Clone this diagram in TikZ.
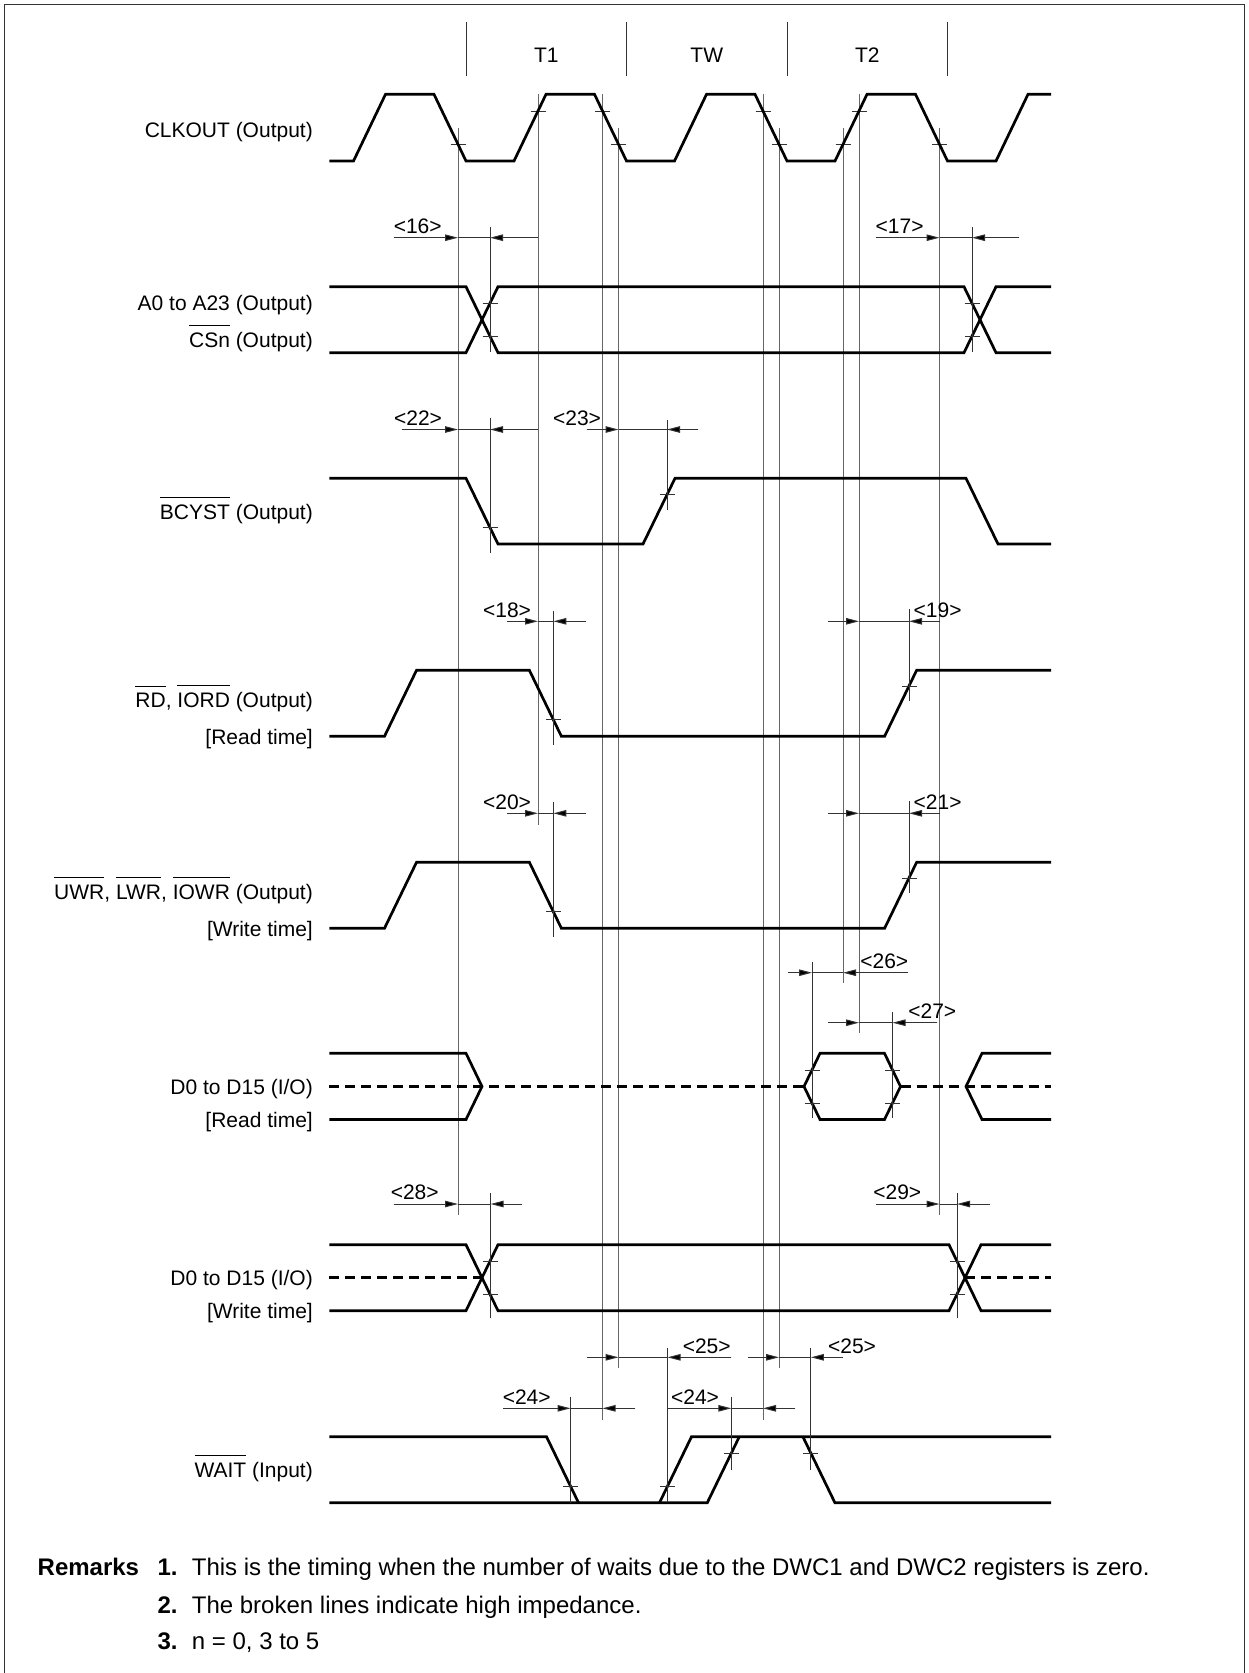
\documentclass[tikz,border=0pt]{standalone}
\usepackage{fontspec}
\setmainfont{Liberation Sans}
\usetikzlibrary{arrows.meta}
\newcommand\ovl[1]{\leavevmode\vbox{\hrule height 1pt\kern 6.5pt\hbox{#1}}}
% reference line: name, x, ytop, ybottom
\newcommand\refln[4]{\coordinate (#1t) at (#2,#3); \coordinate (#1b) at (#2,#4); \draw[vref] (#1t) -- (#1b);}
% local tick line: name, x, ytop, ybottom
\newcommand\tkln[4]{\coordinate (#1t) at (#2,#3); \coordinate (#1b) at (#2,#4); \draw[tickln] (#1t) -- (#1b);}
% small horizontal tick mark at (x,y)
\newcommand\tk[2]{\draw[tickln] ({#1-7.5},#2) -- ({#1+7.5},#2);}
% dimension: name, y, tailL, tipL, tipR, tailR, label x, label
\newcommand\tdim[8]{%
  \coordinate (#1la) at (#3,#2); \coordinate (#1lt) at (#4,#2);
  \coordinate (#1rt) at (#5,#2); \coordinate (#1ra) at (#6,#2);
  \draw[dimarrow] (#1la) -- (#1lt);
  \draw[dimline] (#1lt) -- (#1rt);
  \draw[dimarrow] (#1ra) -- (#1rt);
  \node[dlab] (#1lab) at (#7,{#2-4.2}) {#8};}
\begin{document}
\begin{tikzpicture}[x=1pt,y=-1pt,
  sig/.style={line width=2.7pt, line join=miter},
  hiz/.style={line width=2.7pt, dash pattern=on 10pt off 6pt},
  vref/.style={line width=1pt, draw=black!60},
  tickln/.style={line width=1pt, draw=black!80},
  dimline/.style={line width=1pt, draw=black!80},
  dimarrow/.style={line width=1pt, draw=black!80, fill=black, -{Triangle[length=13pt,width=6.5pt,fill=black]}},
  lab/.style={font=\fontsize{21}{25}\selectfont, inner sep=0pt, anchor=base east},
  dlab/.style={font=\fontsize{21}{25}\selectfont, inner sep=0pt, anchor=base},
  rem/.style={font=\fontsize{24}{28}\selectfont, inner sep=0pt, anchor=base west},
]
\useasboundingbox (0,0) rectangle (1249,1673);
\coordinate (fbl) at (4.5,1673); \coordinate (ftl) at (4.5,4.5);
\coordinate (ftr) at (1244.5,4.5); \coordinate (fbr) at (1244.5,1673);
\draw[line width=1.3pt, black!80] (fbl) -- (ftl) -- (ftr) -- (fbr);

% period markers
\tkln{P0}{466}{22}{76} \tkln{P1}{626.5}{22}{76} \tkln{P2}{787}{22}{76} \tkln{P3}{947.5}{22}{76}
\node[dlab] (tT1) at (546.25,62.6) {T1};
\node[dlab] (tTW) at (706.75,62.6) {TW};
\node[dlab] (tT2) at (867.25,62.6) {T2};

% signal labels
\node[lab] (lclk) at (313,137) {CLKOUT (Output)};
\node[lab] (la0) at (313,310.9) {A0 to A23 (Output)};
\node[lab] (lcs) at (313,347.3) {\ovl{CSn} (Output)};
\node[lab] (lbc) at (313,519) {\ovl{BCYST} (Output)};
\node[lab] (lrd) at (313,707.6) {\ovl{RD}, \ovl{IORD} (Output)};
\node[lab] (lrdt) at (313,744) {[Read time]};
\node[lab] (lwr) at (313,899) {\ovl{UWR}, \ovl{LWR}, \ovl{IOWR} (Output)};
\node[lab] (lwrt) at (313,936) {[Write time]};
\node[lab] (ld0r) at (313,1094) {D0 to D15 (I/O)};
\node[lab] (ld0rt) at (313,1127) {[Read time]};
\node[lab] (ld0w) at (313,1285.3) {D0 to D15 (I/O)};
\node[lab] (ld0wt) at (313,1318.3) {[Write time]};
\node[lab] (lwait) at (313,1477.3) {\ovl{WAIT} (Input)};

% clock reference lines
\refln{V1}{458}{128}{1215}
\refln{V2}{538}{94}{825}
\refln{V3}{602.5}{94}{1420}
\refln{V4}{618.5}{128}{1368}
\refln{V5}{763}{94}{1420}
\refln{V6}{779}{128}{1368}
\refln{V7}{843}{128}{983}
\refln{V8}{859}{94}{1033}
\refln{V9}{939.5}{128}{1215}
\tk{458}{144.3} \tk{538}{111} \tk{602.5}{111} \tk{618.5}{144.3} \tk{763}{111}
\tk{779}{144.3} \tk{843}{144.3} \tk{859}{111} \tk{939.5}{144.3}

% CLKOUT
\draw[sig] (329.3,161) -- (353.5,161) -- (385.5,94.3) -- (434,94.3) -- (466,161) -- (514,161) -- (546,94.3) -- (594.5,94.3) -- (626.5,161) -- (674.5,161) -- (706.5,94.3) -- (755,94.3) -- (787,161) -- (835,161) -- (867,94.3) -- (915.5,94.3) -- (947.5,161) -- (996,161) -- (1028,94.3) -- (1051,94.3);

% A0..A23 / CSn
\draw[sig] (329.3,286.7) -- (466,286.7) -- (498,352.7) -- (964,352.7) -- (996,286.7) -- (1051,286.7);
\draw[sig] (329.3,352.7) -- (466,352.7) -- (498,286.7) -- (964,286.7) -- (996,352.7) -- (1051,352.7);
\tkln{A1}{490}{227.3}{351.7} \tk{490}{303.2} \tk{490}{336.2}
\tkln{A2}{972}{227.3}{351.7} \tk{972}{303.2} \tk{972}{336.2}
\tdim{d16}{237.7}{394}{458}{490}{538}{417.7}{<16>}
\tdim{d17}{237.7}{875.7}{939.5}{972}{1019}{899.6}{<17>}

% BCYST
\draw[sig] (329.3,478.3) -- (466,478.3) -- (498,544) -- (643,544) -- (675,478.3) -- (966,478.3) -- (998,544) -- (1051,544);
\tkln{B1}{490}{418.3}{553.3} \tk{490}{527.3}
\tkln{B2}{667}{420}{510} \tk{667}{494.7}
\tdim{d22}{429.5}{401.7}{458}{490}{538}{418}{<22>}
\tdim{d23}{429.5}{586.7}{618.5}{667}{698.3}{577}{<23>}

% RD, IORD
\draw[sig] (329.3,736.3) -- (384.5,736.3) -- (416.5,670.3) -- (529.4,670.3) -- (561.4,736.3) -- (884.6,736.3) -- (916.6,670.3) -- (1051,670.3);
\tkln{R1}{553.4}{610.7}{745} \tk{553.4}{719.8}
\tkln{R2}{909}{609}{701} \tk{909}{686.8}
\tdim{d18}{621.3}{507}{538}{553.4}{586}{507}{<18>}
\tdim{d19}{621.3}{828.3}{859}{909}{939.5}{937.6}{<19>}

% UWR, LWR, IOWR
\draw[sig] (329.3,928.3) -- (384.5,928.3) -- (416.5,862.3) -- (529.4,862.3) -- (561.4,928.3) -- (884.6,928.3) -- (916.6,862.3) -- (1051,862.3);
\tkln{W1}{553.4}{802}{937} \tk{553.4}{911.8}
\tkln{W2}{909}{801}{893} \tk{909}{878.8}
\tdim{d20}{813.3}{507}{538}{553.4}{586}{507}{<20>}
\tdim{d21}{813.3}{828.3}{859}{909}{939.5}{937.6}{<21>}

% D0 read
\draw[hiz] (329.3,1086.5) -- (804,1086.5);
\draw[hiz] (900.5,1086.5) -- (1051,1086.5);
\draw[sig] (329.3,1053.3) -- (466,1053.3) -- (482,1086.5) -- (466,1119.5) -- (329.3,1119.5);
\draw[sig] (804,1086.5) -- (820,1053.3) -- (884.5,1053.3) -- (900.5,1086.5) -- (884.5,1119.5) -- (820,1119.5) -- cycle;
\draw[sig] (1051,1053.3) -- (982,1053.3) -- (966,1086.5) -- (982,1119.5) -- (1051,1119.5);
\tkln{DR1}{812}{961.7}{1118} \tk{812}{1070} \tk{812}{1103}
\tkln{DR2}{892.5}{1011.7}{1118} \tk{892.5}{1070} \tk{892.5}{1103}
\tdim{d26}{972.7}{788.3}{812}{843}{908.3}{884.3}{<26>}
\tdim{d27}{1022.7}{828.3}{859}{892.5}{937.3}{932.3}{<27>}

% D0 write
\draw[hiz] (329.3,1277.7) -- (482,1277.7);
\draw[hiz] (965,1277.7) -- (1051,1277.7);
\draw[sig] (329.3,1244.7) -- (466,1244.7) -- (498,1310.7) -- (949,1310.7) -- (981,1244.7) -- (1051,1244.7);
\draw[sig] (329.3,1310.7) -- (466,1310.7) -- (498,1244.7) -- (949,1244.7) -- (981,1310.7) -- (1051,1310.7);
\tkln{DW1}{490.6}{1193.3}{1318} \tk{490.6}{1261.2} \tk{490.6}{1294.2}
\tkln{DW2}{957}{1193.3}{1318} \tk{957}{1261.2} \tk{957}{1294.2}
\tdim{d28}{1204}{393.7}{458}{490.6}{521.9}{414.7}{<28>}
\tdim{d29}{1204}{875.9}{939.5}{957}{989.7}{897.3}{<29>}

% WAIT
\draw[sig] (329.3,1436.7) -- (546.5,1436.7) -- (578.5,1502.7);
\draw[sig] (329.3,1502.7) -- (707.3,1502.7) -- (739.3,1436.7);
\draw[sig] (659.5,1502.7) -- (691.5,1436.7) -- (1051,1436.7);
\draw[sig] (802.9,1436.7) -- (834.9,1502.7) -- (1051,1502.7);
\tkln{WT1}{570.5}{1396.7}{1502.7} \tk{570.5}{1486.2}
\tkln{WT2}{667.5}{1348.3}{1501.7} \tk{667.5}{1486.2}
\tkln{WT3}{731.3}{1396.7}{1470} \tk{731.3}{1453.2}
\tkln{WT4}{810.9}{1348.3}{1470} \tk{810.9}{1453.2}
\tdim{d25a}{1357.3}{587}{618.5}{667.5}{731.3}{706.7}{<25>}
\tdim{d25b}{1357.3}{748.3}{779}{810.9}{843}{852}{<25>}
\tdim{d24a}{1408.3}{503.3}{570.5}{602.5}{635}{526.7}{<24>}
\tdim{d24b}{1408.3}{667.5}{731.3}{763}{795}{695}{<24>}

% Remarks
\node[rem, anchor=base east, font=\fontsize{24}{28}\selectfont\bfseries] (rk) at (139.3,1575.3) {Remarks};
\node[rem, font=\fontsize{24}{28}\selectfont\bfseries] (r1n) at (157.3,1575.3) {1.};
\node[rem] (r1) at (191.7,1575.3) {This is the timing when the number of waits due to the DWC1 and DWC2 registers is zero.};
\node[rem, font=\fontsize{24}{28}\selectfont\bfseries] (r2n) at (157.3,1613.3) {2.};
\node[rem] (r2) at (191.7,1613.3) {The broken lines indicate high impedance.};
\node[rem, font=\fontsize{24}{28}\selectfont\bfseries] (r3n) at (157.3,1649.3) {3.};
\node[rem] (r3) at (191.7,1649.3) {n = 0, 3 to 5};
\end{tikzpicture}
\end{document}
